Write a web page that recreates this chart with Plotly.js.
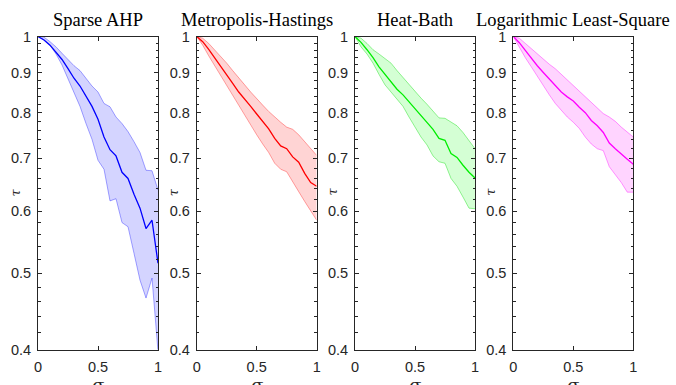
<!DOCTYPE html>
<html><head><meta charset="utf-8">
<script src="https://cdn.plot.ly/plotly-3.0.1.min.js"></script>
<style>html,body{margin:0;padding:0;background:#fff}</style>
</head><body><div id="plot" style="width:676px;height:385px"></div>
<script>
const xs = [0,0.05,0.1,0.15,0.2,0.25,0.3,0.35,0.4,0.45,0.5,0.55,0.6,0.65,0.7,0.75,0.8,0.85,0.9,0.95,1];
const titles = ["Sparse AHP","Metropolis-Hastings","Heat-Bath","Logarithmic Least-Square"];

const ahpMean  = [1,0.99,0.975,0.955,0.935,0.91,0.885,0.865,0.84,0.815,0.785,0.745,0.718,0.705,0.672,0.66,0.63,0.605,0.57,0.584,0.515];
const ahpUpper = [1,0.998,0.985,0.97,0.952,0.935,0.918,0.905,0.885,0.865,0.85,0.822,0.814,0.79,0.775,0.757,0.735,0.712,0.676,0.675,0.638];
const ahpLower = [1,0.99,0.975,0.95,0.92,0.885,0.85,0.815,0.775,0.74,0.696,0.678,0.618,0.622,0.58,0.573,0.53,0.49,0.465,0.493,0.398];

const mhMean  = [1,0.985,0.963,0.94,0.917,0.895,0.872,0.85,0.833,0.815,0.797,0.78,0.763,0.742,0.726,0.72,0.703,0.692,0.67,0.652,0.645];
const mhUpper = [1,0.995,0.98,0.962,0.945,0.925,0.905,0.885,0.868,0.85,0.835,0.818,0.803,0.79,0.778,0.767,0.762,0.75,0.735,0.72,0.706];
const mhLower = [1,0.975,0.945,0.918,0.892,0.868,0.842,0.818,0.795,0.77,0.75,0.73,0.712,0.69,0.678,0.673,0.655,0.635,0.617,0.6,0.584];

const hbMean  = [1,0.983,0.962,0.94,0.915,0.895,0.875,0.857,0.843,0.826,0.81,0.795,0.778,0.762,0.742,0.738,0.71,0.702,0.686,0.672,0.661];
const hbUpper = [1,0.995,0.98,0.962,0.95,0.938,0.925,0.905,0.887,0.868,0.85,0.835,0.82,0.803,0.788,0.787,0.778,0.77,0.755,0.737,0.72];
const hbLower = [1,0.97,0.95,0.925,0.895,0.868,0.85,0.833,0.815,0.79,0.768,0.745,0.728,0.705,0.693,0.69,0.66,0.645,0.625,0.605,0.604];

const llsMean  = [1,0.982,0.96,0.938,0.918,0.9,0.883,0.865,0.85,0.838,0.828,0.813,0.8,0.782,0.77,0.755,0.732,0.72,0.708,0.698,0.688];
const llsUpper = [1,0.995,0.98,0.965,0.95,0.937,0.922,0.91,0.895,0.88,0.865,0.852,0.838,0.823,0.81,0.798,0.79,0.78,0.767,0.756,0.745];
const llsLower = [1,0.968,0.94,0.915,0.89,0.865,0.843,0.822,0.805,0.79,0.778,0.764,0.745,0.73,0.72,0.716,0.683,0.668,0.652,0.634,0.634];

const yTickVals = [0.4,0.5,0.6,0.7,0.8,0.9,1];
const yTickText = ["0.4","0.5","0.6","0.7","0.8","0.9","1"];
const xTickVals = [0,0.5,1];
const xTickText = ["0","0.5","1"];
const yMinor = [0.42,0.44,0.46,0.48,0.52,0.54,0.56,0.58,0.62,0.64,0.66,0.68,0.72,0.74,0.76,0.78,0.82,0.84,0.86,0.88,0.92,0.94,0.96,0.98];

const series = [
  {mean: ahpMean, up: ahpUpper, lo: ahpLower, line: "#0000ff", fill: "rgba(0,0,255,0.17)", edge: "rgba(0,0,255,0.35)"},
  {mean: mhMean, up: mhUpper, lo: mhLower, line: "#ff0000", fill: "rgba(255,0,0,0.17)", edge: "rgba(255,0,0,0.35)"},
  {mean: hbMean, up: hbUpper, lo: hbLower, line: "#00ee00", fill: "rgba(0,255,0,0.17)", edge: "rgba(0,220,0,0.4)"},
  {mean: llsMean, up: llsUpper, lo: llsLower, line: "#ff00ff", fill: "rgba(255,0,255,0.17)", edge: "rgba(255,0,255,0.4)"}
];

const W = 676, H = 385;
const panelsPx = [[38,158],[196.7,316.7],[355,475],[513.3,633.3]];
const yDom = [(H-349.5)/H, (H-36.5)/H];
const axisColor = "#262626";
const tickFont = {family: "Liberation Sans, Arial, sans-serif", size: 14.5, color: axisColor};

const traces = [];
const layout = {
  width: W, height: H, margin: {l:0,r:0,t:0,b:0},
  paper_bgcolor: "#fff", plot_bgcolor: "#fff", showlegend: false,
  annotations: []
};

series.forEach((s, i) => {
  const k = i === 0 ? "" : String(i+1);
  const xa = "x" + k, ya = "y" + k;
  traces.push({x: xs, y: s.lo, xaxis: xa, yaxis: ya, mode: "lines", line: {color: s.edge, width: 1}, hoverinfo: "skip"});
  traces.push({x: xs, y: s.up, xaxis: xa, yaxis: ya, mode: "lines", fill: "tonexty", fillcolor: s.fill, line: {color: s.edge, width: 1}, hoverinfo: "skip"});
  traces.push({x: xs, y: s.mean, xaxis: xa, yaxis: ya, mode: "lines", line: {color: s.line, width: 1.3}});

  const dom = [panelsPx[i][0]/W, panelsPx[i][1]/W];
  layout["xaxis" + k] = {
    domain: dom, anchor: ya, range: [0,1], tickmode: "array", tickvals: xTickVals, ticktext: xTickText,
    ticks: "inside", ticklen: 4, tickwidth: 1, tickcolor: axisColor, showline: true, linecolor: axisColor, linewidth: 1,
    mirror: "ticks", showgrid: false, zeroline: false, tickfont: tickFont, ticklabelstandoff: 4
  };
  layout["yaxis" + k] = {
    domain: yDom, anchor: xa, type: "log", range: [Math.log10(0.4), 0],
    tickmode: "array", tickvals: yTickVals, ticktext: yTickText,
    ticks: "inside", ticklen: 4, tickwidth: 1, tickcolor: axisColor, showline: true, linecolor: axisColor, linewidth: 1,
    mirror: "ticks", showgrid: false, zeroline: false, tickfont: tickFont, ticklabelstandoff: 3,
    minor: {tickmode: "array", tickvals: yMinor, ticks: "inside", ticklen: 2.5, tickwidth: 1, tickcolor: axisColor, showgrid: false}
  };
  layout.annotations.push({
    text: titles[i], xref: "paper", yref: "paper", x: (dom[0]+dom[1])/2, y: (H-20)/H,
    xanchor: "center", yanchor: "middle", showarrow: false,
    font: {family: "Liberation Serif, Times New Roman, serif", size: 18.5, color: "#000"}
  });
  layout.annotations.push({
    text: "<i>σ</i>", xref: "paper", yref: "paper", x: (dom[0]+dom[1])/2, y: (H-373)/H,
    xanchor: "center", yanchor: "top", showarrow: false,
    font: {family: "DejaVu Serif, serif", size: 17, color: axisColor}
  });
  layout.annotations.push({
    text: "<i>τ</i>", xref: "paper", yref: "paper", x: (panelsPx[i][0]-23.5)/W, y: (H-192)/H,
    xanchor: "center", yanchor: "middle", showarrow: false, textangle: -90,
    font: {family: "DejaVu Serif, serif", size: 13, color: axisColor}
  });
});

Plotly.newPlot("plot", traces, layout, {displayModeBar: false, staticPlot: true});
</script></body></html>
